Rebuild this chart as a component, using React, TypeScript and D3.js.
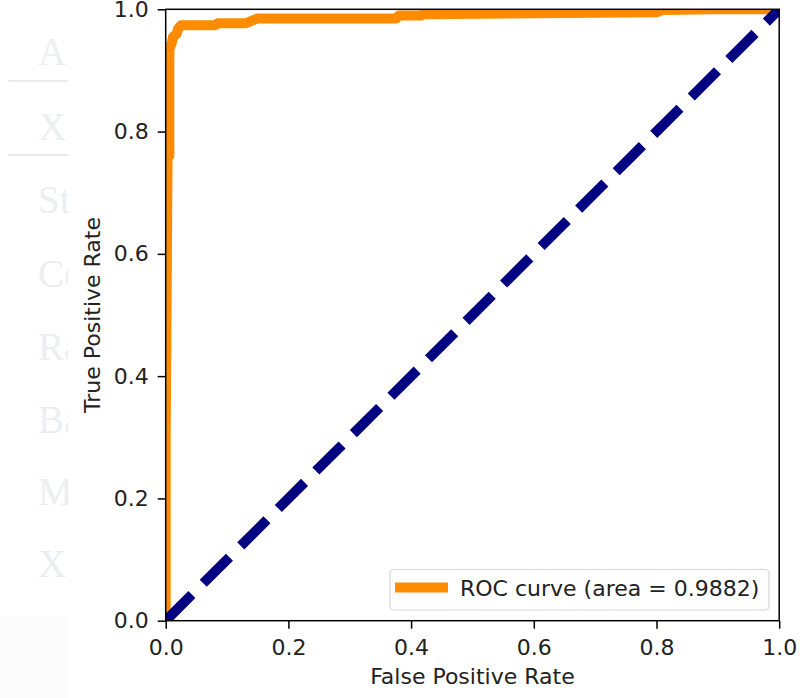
import React, { useEffect, useRef } from "react";
import * as d3 from "d3";

// roc points
const fpr = [0, 0, 0.003, 0.003, 0.006, 0.006, 0.01, 0.012, 0.018, 0.02, 0.025, 0.08, 0.085, 0.13, 0.15, 0.376, 0.38, 0.417, 0.42, 0.8, 0.81, 0.89, 1];
const tpr = [0, 0.3, 0.75, 0.76, 0.76, 0.935, 0.945, 0.955, 0.96, 0.968, 0.974, 0.974, 0.977, 0.977, 0.985, 0.985, 0.99, 0.99, 0.992, 0.995, 0.999, 1, 1];
const chance = [0, 1];
const ticks = [0, 0.2, 0.4, 0.6, 0.8, 1.0];
const legendLabel = "ROC curve (area = 0.9882)";

// faded page behind the chart
const bgLabels = ["A", "X", "St", "Co", "Ra", "Ba", "M", "X"];
const bgBaselines = [65, 140, 213, 287, 360, 433, 505, 577];

const W = 808;
const H = 698;
const FONT = "'DejaVu Sans', sans-serif";
const FS = 22;

export default function App() {
  const ref = useRef<SVGSVGElement>(null);

  useEffect(() => {
    const svg = d3.select(ref.current);
    svg.selectAll("*").remove();

    // background remnant on the left
    const bg = svg.append("g");
    bg.append("rect").attr("x", 0).attr("y", 615).attr("width", 68).attr("height", H - 615).attr("fill", "#fcfcfc");
    bgLabels.forEach((t, i) => {
      bg.append("text")
        .attr("x", 38)
        .attr("y", bgBaselines[i])
        .attr("font-family", "'Liberation Serif', serif")
        .attr("font-size", 39)
        .attr("fill", "#eceef0")
        .text(t);
    });
    [81, 155].forEach((y) => {
      bg.append("line").attr("x1", 8).attr("x2", 68).attr("y1", y).attr("y2", y).attr("stroke", "#e8eaed").attr("stroke-width", 2);
    });
    // chart canvas covers from x=68
    svg.append("rect").attr("x", 68).attr("y", 0).attr("width", W - 68).attr("height", H).attr("fill", "#fff");

    const x = d3.scaleLinear().domain([0, 1]).range([165.7, 779.2]);
    const y = d3.scaleLinear().domain([0, 1]).range([620.7, 9.3]);

    svg.append("defs").append("clipPath").attr("id", "plotclip")
      .append("rect")
      .attr("x", x(0)).attr("y", y(1))
      .attr("width", x(1) - x(0)).attr("height", y(0) - y(1));

    const plot = svg.append("g").attr("clip-path", "url(#plotclip)");

    const line = d3.line<number>()
      .x((d, i) => x(fpr[i]))
      .y((d, i) => y(tpr[i]));

    plot.append("path")
      .attr("d", line(tpr))
      .attr("fill", "none")
      .attr("stroke", "#ff8c00")
      .attr("stroke-width", 10)
      .attr("stroke-linejoin", "round");

    const diag = d3.line<number>().x((d) => x(d)).y((d) => y(d));
    plot.append("path")
      .attr("d", diag(chance))
      .attr("fill", "none")
      .attr("stroke", "#000080")
      .attr("stroke-width", 10)
      .attr("stroke-dasharray", "37,16");

    // axes
    const xAxis = svg.append("g")
      .attr("transform", `translate(0,${y(0)})`)
      .call(d3.axisBottom(x).tickValues(ticks).tickFormat(d3.format(".1f")).tickSizeOuter(0).tickSize(8).tickPadding(11));
    const yAxis = svg.append("g")
      .attr("transform", `translate(${x(0)},0)`)
      .call(d3.axisLeft(y).tickValues(ticks).tickFormat(d3.format(".1f")).tickSizeOuter(0).tickSize(8).tickPadding(9));
    [xAxis, yAxis].forEach((a) => {
      a.select(".domain").remove();
      a.selectAll("line").attr("stroke", "#000").attr("stroke-width", 1.5);
      a.selectAll("text").attr("font-family", FONT).attr("font-size", FS).attr("fill", "#222");
    });

    // frame
    svg.append("rect")
      .attr("x", x(0)).attr("y", y(1))
      .attr("width", x(1) - x(0)).attr("height", y(0) - y(1))
      .attr("fill", "none").attr("stroke", "#000").attr("stroke-width", 1.5);

    svg.append("text")
      .attr("x", (x(0) + x(1)) / 2).attr("y", 684)
      .attr("text-anchor", "middle")
      .attr("font-family", FONT).attr("font-size", FS).attr("fill", "#222")
      .text("False Positive Rate");
    svg.append("text")
      .attr("transform", `translate(100,${(y(0) + y(1)) / 2}) rotate(-90)`)
      .attr("text-anchor", "middle")
      .attr("font-family", FONT).attr("font-size", FS).attr("fill", "#222")
      .text("True Positive Rate");

    // legend
    const lg = svg.append("g");
    lg.append("rect")
      .attr("x", 390).attr("y", 569.5).attr("width", 379).attr("height", 40.5).attr("rx", 4)
      .attr("fill", "#fff").attr("fill-opacity", 0.8)
      .attr("stroke", "#d6d6d6").attr("stroke-width", 1.2);
    lg.append("line")
      .attr("x1", 395).attr("x2", 448).attr("y1", 587.5).attr("y2", 587.5)
      .attr("stroke", "#ff8c00").attr("stroke-width", 10);
    lg.append("text")
      .attr("x", 460).attr("y", 596)
      .attr("font-family", FONT).attr("font-size", FS).attr("fill", "#222")
      .text(legendLabel);
  }, []);

  return (
    <svg ref={ref} width={W} height={H} style={{ position: "absolute", left: 0, top: 0, background: "#fff" }} />
  );
}
